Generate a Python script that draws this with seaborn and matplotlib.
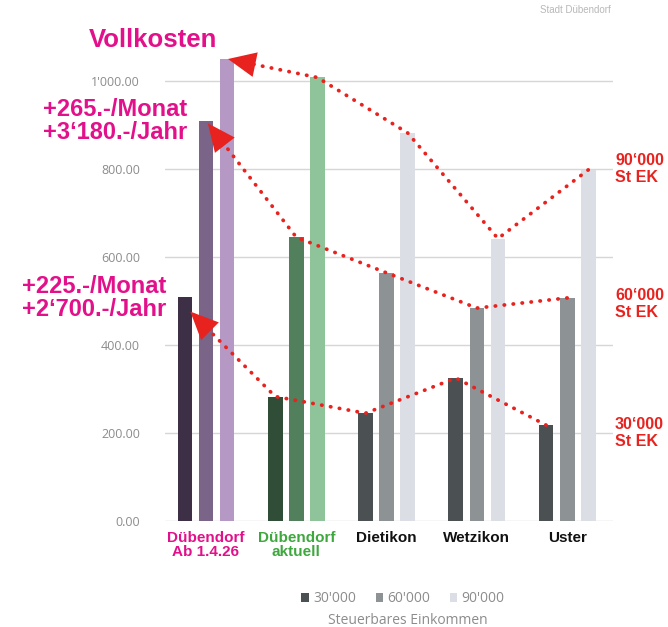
import numpy as np
import pandas as pd
import matplotlib
matplotlib.use("Agg")
import matplotlib.pyplot as plt
import seaborn as sns
from matplotlib.patches import Patch
from matplotlib.ticker import FuncFormatter

# Monthly full costs (CHF) per municipality and taxable income
gemeinden = ["Dübendorf\nAb 1.4.26", "Dübendorf\naktuell", "Dietikon", "Wetzikon", "Uster"]
einkommen = ["30'000", "60'000", "90'000"]
kosten_30 = [508, 283, 245, 325, 218]
kosten_60 = [910, 645, 564, 484, 507]
kosten_90 = [1050, 1008, 882, 642, 798]
yticks = [0, 200, 400, 600, 800, 1000]

df = pd.DataFrame({
    "Gemeinde": np.repeat(gemeinden, 3),
    "Einkommen": einkommen * len(gemeinden),
    "Kosten": [v for trio in zip(kosten_30, kosten_60, kosten_90) for v in trio],
})

grau = ["#4b5053", "#8d9295", "#dcdee6"]
lila = ["#3d2f45", "#7a6487", "#b598c4"]
gruen = ["#2f4d37", "#527f5c", "#8fc49b"]
rot = "#e8231f"
magenta = "#e2108a"

sns.set_theme(style="white")
plt.rcParams["font.family"] = ["Liberation Sans", "DejaVu Sans"]

fig = plt.figure(figsize=(6.68, 6.27), dpi=100)
ax = fig.add_axes([0.247, 0.169, 0.671, 0.772])

sns.barplot(data=df, x="Gemeinde", y="Kosten", hue="Einkommen",
            order=gemeinden, hue_order=einkommen, palette=grau,
            width=0.7, gap=0.3, saturation=1, legend=False, ax=ax, zorder=3)

# Dübendorf groups get their own colour families
for h, cont in enumerate(ax.containers):
    cont.patches[0].set_facecolor(lila[h])
    cont.patches[1].set_facecolor(gruen[h])
    for p in cont.patches:
        p.set_edgecolor("none")

ax.set_xlim(-0.454, 4.51)
ax.set_ylim(0, 1100)
ax.set_yticks(yticks)
ax.yaxis.set_major_formatter(FuncFormatter(lambda v, _: f"{v:,.2f}".replace(",", "'")))
ax.grid(axis="y", color="#d6d6d6", lw=1, zorder=0)
ax.set_axisbelow(True)
for s in ax.spines.values():
    s.set_visible(False)
ax.set_xlabel("")
ax.set_ylabel("")
ax.tick_params(axis="y", length=0, pad=18, labelsize=9, labelcolor="#8c8c8c")
ax.tick_params(axis="x", length=0, pad=7)
for lab in ax.get_yticklabels():
    lab.set_fontfamily(["Open Sans", "DejaVu Sans"])

farben_x = [magenta, "#3ea83e", "#111111", "#111111", "#111111"]
ax.set_xticks(range(len(gemeinden)))
ax.set_xticklabels(gemeinden, fontsize=11, fontweight="bold", linespacing=1.05)
for lab, c in zip(ax.get_xticklabels(), farben_x):
    lab.set_color(c)

# Dotted trend lines across the bar tops, arrow pointing to the new Dübendorf value
werte = [kosten_30, kosten_60, kosten_90]
spitze = [(0.06, -32), (0.02, -6), (0.01, 0)]
for h, cont in enumerate(ax.containers):
    xs = [p.get_x() + p.get_width() / 2 for p in cont.patches]
    vals = werte[h]
    px = [xs[i] for i in range(4, 0, -1)]
    py = [vals[i] for i in range(4, 0, -1)]
    tip = (xs[0] + spitze[h][0], vals[0] + spitze[h][1])
    px.append(tip[0])
    py.append(tip[1])
    ax.plot(px, py, color=rot, lw=2.7, linestyle=(0, (0.1, 2.3)),
            dash_capstyle="round", zorder=5, clip_on=False)
    prev = (px[-2], py[-2])
    base = (tip[0] + 0.3 * (prev[0] - tip[0]), tip[1] + 0.3 * (prev[1] - tip[1]))
    ax.annotate("", xy=tip, xytext=base, annotation_clip=False, zorder=6,
                arrowprops=dict(arrowstyle="-|>,head_length=1.0,head_width=0.45",
                                mutation_scale=20, lw=0, color=rot,
                                shrinkA=0, shrinkB=0))

W, H = 668, 627
def ftext(x, y, s, **kw):
    fig.text(x / W, 1 - y / H, s, **kw)

ftext(153, 40, "Vollkosten", ha="center", va="center", fontsize=18.5,
      fontweight="bold", color=magenta)
ftext(187, 121, "+265.-/Monat\n+3‘180.-/Jahr", ha="right", va="center",
      fontsize=17, fontweight="bold", color=magenta, linespacing=1.05)
ftext(166, 298, "+225.-/Monat\n+2‘700.-/Jahr", ha="right", va="center",
      fontsize=17, fontweight="bold", color=magenta, linespacing=1.05)
for y, lab in [(169, "90‘000\nSt EK"), (304, "60‘000\nSt EK"), (433, "30‘000\nSt EK")]:
    ftext(615, y, lab, ha="left", va="center", fontsize=11.5,
          fontweight="bold", color=rot, linespacing=1.1)

ftext(540, 10, "Stadt Dübendorf", ha="left", va="center", fontsize=7,
      color="#9a9a9a", alpha=0.7)

handles = [Patch(facecolor=c, edgecolor="none", label=l) for c, l in zip(grau, einkommen)]
leg = fig.legend(handles=handles, loc="center", bbox_to_anchor=(403 / W, 1 - 599 / H),
                 ncol=3, frameon=False, handlelength=0.55, handleheight=0.55,
                 handletextpad=0.3, columnspacing=1.4,
                 prop={"family": ["Open Sans", "DejaVu Sans"], "size": 10})
for t in leg.get_texts():
    t.set_color("#8c8c8c")
ftext(408, 620, "Steuerbares Einkommen", ha="center", va="center", fontsize=10,
      color="#8c8c8c", family=["Open Sans", "DejaVu Sans"])

fig.savefig("out.png", dpi=100)
